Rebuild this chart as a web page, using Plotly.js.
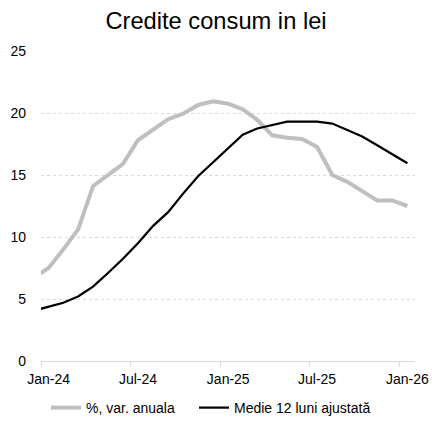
<!DOCTYPE html>
<html>
<head>
<meta charset="utf-8">
<script src="https://cdn.plot.ly/plotly-3.0.1.min.js"></script>
<style>html,body{margin:0;padding:0;background:#fff;}#chart{width:432px;height:430px;}</style>
</head>
<body>
<div id="chart"></div>
<script>
// Monthly observations (Dec-23 is partly clipped by the axis start, as in the source)
const months = ['2023-12','2024-01','2024-02','2024-03','2024-04','2024-05','2024-06','2024-07','2024-08','2024-09','2024-10','2024-11','2024-12',
                '2025-01','2025-02','2025-03','2025-04','2025-05','2025-06','2025-07','2025-08','2025-09','2025-10','2025-11','2025-12','2026-01'];
const varAnuala = [6.7, 7.5, 9.0, 10.6, 14.1, 15.0, 15.9, 17.8, 18.65, 19.5, 19.95, 20.65, 20.95,
                   20.75, 20.3, 19.45, 18.2, 18.0, 17.9, 17.25, 15.0, 14.45, 13.7, 12.95, 12.95, 12.5];
const medie12 = [4.05, 4.35, 4.7, 5.2, 6.0, 7.1, 8.25, 9.5, 10.9, 12.0, 13.5, 14.9, 16.05,
                 17.2, 18.25, 18.75, 19.05, 19.3, 19.3, 19.3, 19.15, 18.65, 18.1, 17.4, 16.67, 15.95];
const seriesNames = ['%, var. anuala', 'Medie 12 luni ajustată'];
const tickMonths = ['2024-01','2024-07','2025-01','2025-07','2026-01'];
const tickLabels = ['Jan-24','Jul-24','Jan-25','Jul-25','Jan-26'];
const chartTitle = 'Credite consum in lei';

function midMonth(m){
  const p = m.split('-').map(Number);
  const a = Date.UTC(p[0], p[1]-1, 1), b = Date.UTC(p[0], p[1], 1);
  return new Date((a+b)/2).toISOString().slice(0,19).replace('T',' ');
}
const xs = months.map(midMonth);

const font = {family:'"Liberation Sans", Arial, sans-serif', size:14, color:'#000'};

const traces = [
  {x: xs, y: varAnuala, name: seriesNames[0], type:'scatter', mode:'lines',
   line:{color:'#bfbfbf', width:4}, legend:'legend'},
  {x: xs, y: medie12, name: seriesNames[1], type:'scatter', mode:'lines',
   line:{color:'#000000', width:2.25}, legend:'legend2'}
];

const legendBase = {orientation:'h', xref:'container', xanchor:'left',
  yref:'container', y:1-408/430, yanchor:'middle',
  font:font, bgcolor:'rgba(0,0,0,0)', itemwidth:30};

const layout = {
  width:432, height:430,
  margin:{l:41, r:17, t:51, b:69, autoexpand:false},
  paper_bgcolor:'#fff', plot_bgcolor:'#fff',
  font: font,
  title:{text: chartTitle, font:{family:font.family, size:23.7, color:'#000'},
         x:0.5, xref:'container', xanchor:'center', y:0.952, yref:'container', yanchor:'middle'},
  xaxis:{type:'date', range:['2024-01-01','2026-02-01'],
         tickmode:'array', tickvals: tickMonths.map(midMonth), ticktext: tickLabels,
         ticks:'', showgrid:false, zeroline:false,
         showline:true, linecolor:'#d9d9d9', linewidth:1,
         ticklabelstandoff:5,
         minor:{tickmode:'linear', tick0:'2024-01-01', dtick:'M6', ticks:'outside', ticklen:5,
                tickcolor:'#d9d9d9', tickwidth:1, showgrid:false},
         tickfont:font},
  yaxis:{range:[0,25], dtick:5, tick0:0, showgrid:true, gridcolor:'#d9d9d9', gridwidth:1, griddash:'dot',
         zeroline:false, showline:false, ticks:'', ticklabelstandoff:14, tickfont:font},
  showlegend:true,
  legend: Object.assign({}, legendBase, {x:46/432}),
  legend2: Object.assign({}, legendBase, {x:194/432})
};

Plotly.newPlot('chart', traces, layout, {displayModeBar:false, staticPlot:true});
</script>
</body>
</html>
